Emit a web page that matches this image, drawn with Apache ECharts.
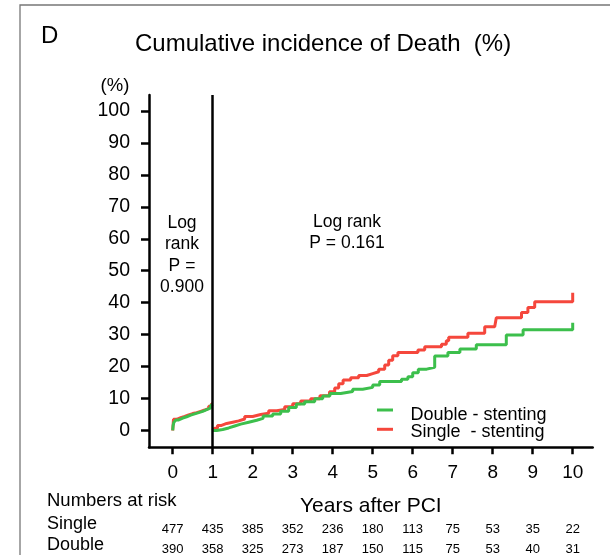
<!DOCTYPE html>
<html>
<head>
<meta charset="utf-8">
<script src="https://cdn.jsdelivr.net/npm/echarts@6/dist/echarts.min.js"></script>
<style>
  html, body { margin: 0; padding: 0; background: #fff; }
  #main { width: 610px; height: 555px; }
</style>
</head>
<body>
<div id="main"></div>
<script>
// tick labels and numbers at risk
const years = [0, 1, 2, 3, 4, 5, 6, 7, 8, 9, 10];
const yTicks = [0, 10, 20, 30, 40, 50, 60, 70, 80, 90, 100];
const riskSingle = [477, 435, 385, 352, 236, 180, 113, 75, 53, 35, 22];
const riskDouble = [390, 358, 325, 273, 187, 150, 115, 75, 53, 40, 31];

// first year (0-1)
const singleYear1 = [[0, 0], [0.02, 3.5], [0.1, 4.0], [0.2, 4.4], [0.3, 4.9], [0.4, 5.3], [0.5, 5.6],
  [0.6, 6.0], [0.7, 6.4], [0.8, 6.9], [0.9, 7.6], [0.97, 8.4], [1.0, 8.4]];
const doubleYear1 = [[0, 0], [0.01, 1.5], [0.03, 2.6], [0.08, 3.3], [0.15, 3.9], [0.25, 4.3], [0.35, 4.8],
  [0.45, 5.2], [0.55, 5.6], [0.65, 6.0], [0.75, 6.5], [0.85, 7.1], [0.95, 7.8], [1.0, 8.2]];

// landmark from year 1 to 10
const singleLater = [[1, 0], [1.05, 0.7], [1.12, 1.6], [1.22, 2.2], [1.35, 2.6], [1.5, 3.0], [1.65, 3.6],
  [1.8, 4.4], [2.0, 5.0], [2.2, 5.4], [2.4, 6.2], [2.6, 6.6], [2.8, 7.4], [3.0, 8.4], [3.2, 9.2],
  [3.45, 9.9], [3.68, 10.9], [3.92, 12.1], [4.05, 13.3], [4.15, 14.6], [4.26, 15.8], [4.45, 16.5],
  [4.65, 17.2], [4.85, 17.8], [5.0, 18.4], [5.15, 19.2], [5.3, 20.5], [5.4, 22.0], [5.5, 23.4],
  [5.63, 24.4], [6.13, 25.2], [6.3, 26.2], [6.72, 27.0], [6.84, 28.1], [6.9, 29.2], [7.38, 30.4],
  [7.8, 32.5], [8.05, 33.0], [8.09, 35.3], [8.72, 36.9], [8.88, 38.5], [9.05, 40.3], [10.0, 43.1]];
const doubleLater = [[1, 0], [1.1, 0.3], [1.25, 0.8], [1.4, 1.4], [1.55, 2.0], [1.7, 2.6], [1.9, 3.2],
  [2.1, 3.8], [2.26, 4.5], [2.5, 5.2], [2.7, 6.0], [2.9, 7.2], [3.09, 8.3], [3.3, 9.0], [3.55, 9.9],
  [3.75, 10.8], [3.93, 11.6], [4.2, 12.2], [4.5, 12.9], [4.75, 13.5], [5.0, 14.2], [5.175, 15.3],
  [5.72, 16.0], [5.88, 16.8], [6.0, 18.1], [6.14, 19.2], [6.35, 19.8], [6.55, 23.3], [6.88, 24.4],
  [7.18, 25.5], [7.59, 26.8], [8.34, 29.9], [8.76, 31.5], [10.0, 33.7]];

const FONT = 'Liberation Sans, Arial, Helvetica, sans-serif';
const RED = '#f5473c';
const GREEN = '#3cbf4c';
const SINGLE = 'Single  - stenting';
const DOUBLE = 'Double - stenting';

function stepLine(name, data, color, extra) {
  return Object.assign({
    name: name,
    type: 'line',
    step: 'end',
    data: data,
    symbol: 'none',
    color: color,
    lineStyle: { color: color, width: 3 },
    animation: false
  }, extra || {});
}

function text(str, x, y, size, align, extra) {
  return {
    type: 'text',
    x: x,
    y: y,
    style: Object.assign({
      text: str,
      fontFamily: FONT,
      fontSize: size,
      fill: '#000',
      textAlign: align || 'left',
      textVerticalAlign: 'middle'
    }, extra || {})
  };
}

function key(color, y) {
  return {
    type: 'line',
    shape: { x1: 377, y1: y, x2: 393, y2: y },
    style: { stroke: color, lineWidth: 3 }
  };
}

const chart = echarts.init(document.getElementById('main'), null, { renderer: 'canvas' });

const option = {
  animation: false,
  textStyle: { fontFamily: FONT },
  grid: { left: 149, right: 17.3, top: 95, bottom: 107.7, containLabel: false },
  xAxis: {
    type: 'value',
    min: -0.5925,
    max: 10.5,
    name: 'Years after PCI',
    nameLocation: 'middle',
    nameGap: 48,
    nameMoveOverlap: false,
    nameTextStyle: { fontSize: 21, color: '#000' },
    splitLine: { show: false },
    axisLine: { onZero: false, lineStyle: { color: '#000', width: 2.5 } },
    axisTick: { customValues: years, length: 7, lineStyle: { color: '#000', width: 2.5 } },
    axisLabel: { customValues: years, fontSize: 19, color: '#000', margin: 16 }
  },
  yAxis: {
    type: 'value',
    min: -5.26,
    max: 105,
    splitLine: { show: false },
    axisLine: { show: true, onZero: false, lineStyle: { color: '#000', width: 2.5 } },
    axisTick: { show: true, customValues: yTicks, length: 8, lineStyle: { color: '#000', width: 2.5 } },
    axisLabel: { customValues: yTicks, fontSize: 19.5, color: '#000', margin: 19 }
  },
  series: [
    stepLine(SINGLE, singleYear1, RED),
    stepLine(SINGLE, singleLater, RED),
    stepLine(DOUBLE, doubleYear1, GREEN, {
      markLine: {
        silent: true,
        symbol: ['none', 'none'],
        label: { show: false },
        lineStyle: { color: '#000', width: 2.5, type: 'solid' },
        data: [{ xAxis: 1 }]
      }
    }),
    stepLine(DOUBLE, doubleLater, GREEN)
  ]
};
chart.setOption(option);

// frame, titles, notes, key and the numbers-at-risk table
const graphics = [
  {
    type: 'polyline',
    shape: { points: [[20, 555], [20, 5], [610, 5]] },
    style: { stroke: '#777', lineWidth: 1.3, fill: null }
  },
  text('D', 41, 36, 24),
  text('Cumulative incidence of Death  (%)', 135, 44, 24),
  text('(%)', 115, 86, 18.5, 'center'),
  text('Log\nrank\nP =\n0.900', 182, 212, 17.5, 'center', { textVerticalAlign: 'top', lineHeight: 21.5 }),
  text('Log rank\nP = 0.161', 347, 212, 17.5, 'center', { textVerticalAlign: 'top', lineHeight: 21 }),
  key(GREEN, 410),
  key(RED, 429.3),
  text(DOUBLE, 410.5, 414.7, 18),
  text(SINGLE, 410.5, 432, 18),
  text('Numbers at risk', 47, 500.5, 18.5),
  text('Single', 47, 524, 18),
  text('Double', 47, 545, 18)
];
years.forEach(function (yr, i) {
  const px = chart.convertToPixel({ xAxisIndex: 0 }, yr);
  graphics.push(text(String(riskSingle[i]), px, 529.5, 13, 'center'));
  graphics.push(text(String(riskDouble[i]), px, 549.5, 13, 'center'));
});
chart.setOption({ graphic: graphics });
</script>
</body>
</html>
